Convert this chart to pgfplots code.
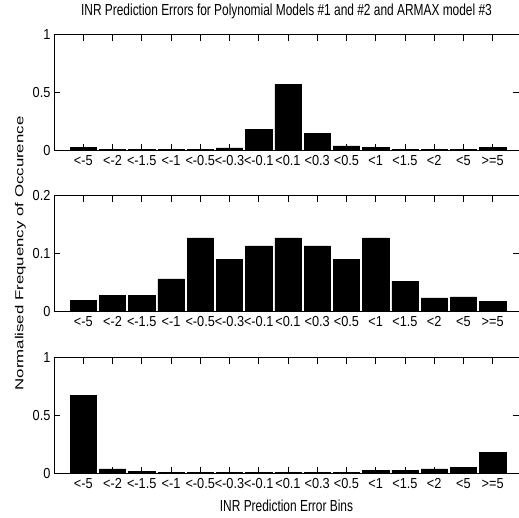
\documentclass[border=0pt]{standalone}
\usepackage{fontspec}
\setmainfont{Liberation Sans}
\newfontfamily\narrowfont[FakeStretch=0.745]{Liberation Sans}
\newfontfamily\tickfont[FakeStretch=0.88]{Liberation Sans}
\newfontfamily\ylabfont[FakeStretch=1.45]{Liberation Sans}
\usepackage{pgfplots}
\pgfplotsset{compat=1.18}

% shared look of the three panels (1pt ~ 1px of the reference)
\pgfplotsset{
  panel/.style={
    width=465pt, height=115.5pt, scale only axis,
    xmin=0, xmax=15.9, ymin=0,
    xtick={1,...,15},
    xticklabels={{<-5},{<-2},{<-1.5},{<-1},{<-0.5},{<-0.3},{<-0.1},{<0.1},{<0.3},{<0.5},{<1},{<1.5},{<2},{<5},{>=5}},
    tick align=inside,
    major tick length=6pt,
    axis line style={line width=0.8pt},
    tick style={line width=0.8pt, black},
    axis on top,
    ticklabel style={font=\tickfont\fontsize{14.5}{16}\selectfont},
    xticklabel style={yshift=-1.5pt},
    /pgf/number format/assume math mode=true,
  },
  hbar/.style={ybar, bar width=0.9, fill=black, draw=black, line width=0.5pt},
}

\begin{document}
\begin{tikzpicture}
% panel 1: polynomial model #1
\begin{axis}[panel, at={(0pt,0pt)}, anchor=north west,
    ymax=1, ytick={0,0.5,1},
    title={INR Prediction Errors for Polynomial Models \#1 and \#2 and ARMAX model \#3},
    title style={font=\narrowfont\fontsize{16}{18}\selectfont,
      at={(axis description cs:0.5,1)}, anchor=base, yshift=13.6pt},
]
\addplot[hbar] coordinates {
  (1,0.024) (2,0.008) (3,0.008) (4,0.008) (5,0.008) (6,0.02) (7,0.179) (8,0.568)
  (9,0.146) (10,0.037) (11,0.022) (12,0.008) (13,0.008) (14,0.008) (15,0.022)
};
\end{axis}

% panel 2: polynomial model #2
\begin{axis}[panel, at={(0pt,-161pt)}, anchor=north west,
    ymax=0.2, ytick={0,0.1,0.2},
    ylabel={Normalised Frequency of Occurence},
    ylabel style={font=\ylabfont\fontsize{11.6}{13}\selectfont,
      at={(axis description cs:0,0.5)}, anchor=center, yshift=33.5pt},
]
\addplot[hbar] coordinates {
  (1,0.019) (2,0.027) (3,0.027) (4,0.056) (5,0.127) (6,0.090) (7,0.113) (8,0.127)
  (9,0.113) (10,0.090) (11,0.127) (12,0.052) (13,0.023) (14,0.025) (15,0.0166)
};
\end{axis}

% panel 3: ARMAX model #3
\begin{axis}[panel, at={(0pt,-323pt)}, anchor=north west,
    ymax=1, ytick={0,0.5,1},
    xlabel={INR Prediction Error Bins},
    xlabel style={font=\narrowfont\fontsize{16}{18}\selectfont,
      at={(axis description cs:0.5,0)}, anchor=base, yshift=-38.4pt},
]
\addplot[hbar] coordinates {
  (1,0.671) (2,0.037) (3,0.014) (4,0.01) (5,0.01) (6,0.01) (7,0.01) (8,0.01)
  (9,0.01) (10,0.01) (11,0.026) (12,0.026) (13,0.037) (14,0.052) (15,0.182)
};
\end{axis}

\pgfresetboundingbox
\path[use as bounding box] (-54pt,34.7pt) rectangle (465pt,-483.3pt);
\end{tikzpicture}
\end{document}
